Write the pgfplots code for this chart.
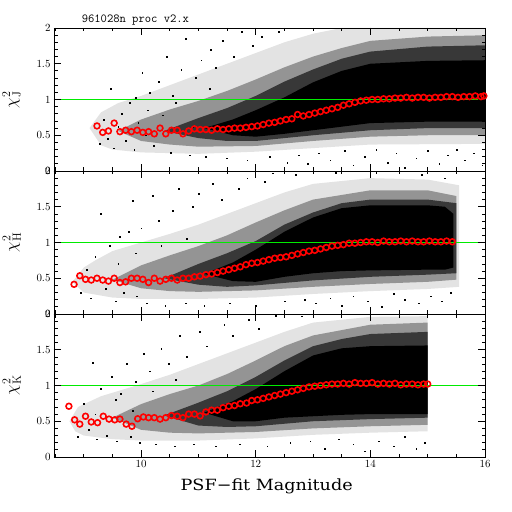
\documentclass[border=0pt]{standalone}
\usepackage{fontspec}
\newfontfamily\dejaserif{DejaVu Serif}[FakeStretch=1.14]
\usepackage{pgfplots}
\pgfplotsset{compat=1.18}
\definecolor{medred}{RGB}{255,0,0}
\definecolor{refgreen}{RGB}{0,235,0}
\pgfplotsset{
 panel/.style={
  scale only axis, width=431bp, height=143bp,
  xmin=8.48, xmax=16, ymin=0, ymax=2,
  xtick={10,12,14,16}, minor xtick={8.5,9,...,16},
  ytick={0,0.5,1,1.5,2}, minor ytick={0,0.1,...,2},
  tick align=inside, major tick length=7bp, minor tick length=3.5bp,
  axis line style={line width=0.9pt},
  every tick/.append style={line width=0.8pt, black},
  axis on top,
  ylabel style={font=\fontsize{17}{20}\selectfont, at={(axis description cs:-0.098,0.5)}, anchor=center},
  yticklabel style={font=\fontsize{10.5}{12}\selectfont},
  xticklabel style={font=\fontsize{10.5}{12}\selectfont},
 },
 lone/.style={fill=black!11, draw=none},
 ltwo/.style={fill=black!42, draw=none},
 lthree/.style={fill=black!78, draw=none},
 lfour/.style={fill=black, draw=none},
 outl/.style={only marks, mark=square*, mark size=0.4pt, black},
 med/.style={only marks, mark=o, medred, mark size=2.9pt, mark options={line width=1.6pt}},
 one/.style={refgreen, line width=0.8pt},
}
\begin{document}
\begin{tikzpicture}
\useasboundingbox (0,0) rectangle (512bp,512bp);
% ---------------- J panel ----------------
\begin{axis}[panel, at={(54bp,341bp)}, anchor=south west, xticklabels={}, ylabel={$\chi^2_{\rm J}$},
  title={961028n proc v2.x},
  title style={at={(rel axis cs:0.064,1.0)}, anchor=base west, inner sep=0pt, font=\fontsize{12.3}{14}\ttfamily}]
\addplot[lone] coordinates {(9.1,0.6)(9.3,0.82)(9.6,0.95)(10,1.05)(10.5,1.2)(11,1.35)(11.5,1.5)(12,1.65)(12.5,1.8)(13,1.92)(13.5,2.0)(16.1,2.0)(16.1,0.38)(14,0.37)(13,0.32)(12,0.27)(11,0.24)(10,0.26)(9.5,0.3)(9.3,0.36)} -- cycle;
\addplot[ltwo] coordinates {(9.6,0.56)(10,0.72)(10.5,0.86)(11,0.98)(11.5,1.12)(12,1.28)(12.5,1.45)(13,1.6)(13.5,1.72)(14,1.82)(15,1.88)(16.1,1.9)(16.1,0.5)(15,0.5)(14,0.48)(13,0.42)(12,0.35)(11,0.34)(10.5,0.37)(10,0.42)} -- cycle;
\addplot[lthree] coordinates {(10.4,0.56)(11,0.74)(11.5,0.88)(12,1.05)(12.5,1.25)(13,1.42)(13.5,1.57)(14,1.67)(15,1.74)(16.1,1.76)(16.1,0.6)(15,0.6)(14,0.57)(13,0.5)(12,0.42)(11.5,0.42)(11,0.46)} -- cycle;
\addplot[lfour] coordinates {(11.1,0.6)(11.6,0.72)(12,0.85)(12.5,1.03)(13,1.24)(13.5,1.4)(14,1.5)(15,1.54)(16.1,1.55)(16.1,0.69)(15,0.69)(14,0.67)(13.5,0.62)(13,0.57)(12.5,0.52)(12,0.48)(11.6,0.5)} -- cycle;
\addplot[outl] coordinates {(9.28,0.38)(9.35,0.72)(9.42,0.45)(9.47,1.15)(9.52,0.32)(9.6,0.62)(9.66,0.8)(9.73,0.42)(9.8,0.95)(9.88,0.3)(9.95,0.68)(10.02,1.38)(10.08,0.5)(10.15,1.1)(10.22,0.35)(10.3,1.25)(10.38,0.78)(10.45,1.6)(10.52,0.26)(10.6,0.95)(10.7,1.42)(10.78,1.85)(10.85,0.22)(10.95,1.3)(11.05,1.55)(11.12,0.2)(11.22,1.7)(11.3,1.45)(11.42,1.82)(11.5,0.18)(11.62,1.6)(11.75,1.95)(11.85,0.15)(11.95,1.75)(12.1,1.88)(12.25,0.2)(12.4,1.95)(12.55,0.12)(12.75,0.22)(12.9,0.1)(13.1,0.25)(13.3,0.15)(13.55,0.28)(13.7,0.08)(13.9,0.2)(14.1,0.3)(14.3,0.12)(14.45,0.25)(14.6,0.05)(14.8,0.18)(15.0,0.28)(15.2,0.1)(15.35,0.22)(15.5,0.3)(15.65,0.15)(15.8,0.25)(15.95,0.08)(9.9,1.02)(10.12,0.85)(10.55,1.05)(10.9,0.62)(11.2,1.15)};
\addplot[one] coordinates {(8.48,1)(16,1)};
\addplot[med] coordinates {(9.23,0.63)(9.33,0.54)(9.43,0.56)(9.53,0.67)(9.63,0.55)(9.73,0.57)(9.83,0.55)(9.93,0.57)(10.03,0.54)(10.13,0.55)(10.23,0.52)(10.33,0.60)(10.43,0.52)(10.53,0.57)(10.63,0.57)(10.73,0.52)(10.83,0.56)(10.93,0.59)(11.03,0.58)(11.13,0.58)(11.23,0.57)(11.33,0.59)(11.43,0.58)(11.53,0.59)(11.63,0.60)(11.73,0.60)(11.83,0.61)(11.93,0.62)(12.03,0.63)(12.13,0.65)(12.23,0.67)(12.33,0.68)(12.43,0.70)(12.53,0.72)(12.63,0.73)(12.73,0.79)(12.83,0.77)(12.93,0.79)(13.03,0.81)(13.13,0.83)(13.23,0.85)(13.33,0.87)(13.43,0.89)(13.53,0.92)(13.63,0.94)(13.73,0.96)(13.83,0.98)(13.93,0.99)(14.03,1.00)(14.13,1.00)(14.23,1.01)(14.33,1.01)(14.43,1.02)(14.53,1.02)(14.63,1.03)(14.73,1.02)(14.83,1.03)(14.93,1.03)(15.03,1.02)(15.13,1.03)(15.23,1.03)(15.33,1.04)(15.43,1.04)(15.53,1.03)(15.63,1.04)(15.73,1.04)(15.83,1.05)(15.93,1.04)(15.98,1.05)};
\end{axis}
% ---------------- H panel ----------------
\begin{axis}[panel, at={(54bp,198bp)}, anchor=south west, xticklabels={}, ylabel={$\chi^2_{\rm H}$}]
\addplot[lone] coordinates {(8.8,0.45)(9.0,0.65)(9.2,0.75)(9.5,0.88)(10,1.0)(10.5,1.12)(11,1.25)(11.5,1.4)(12,1.55)(12.5,1.7)(13,1.82)(14,1.9)(15,1.88)(15.55,1.8)(15.55,0.38)(15,0.35)(14,0.32)(13,0.28)(12,0.23)(11,0.21)(10,0.21)(9.5,0.23)(9,0.3)} -- cycle;
\addplot[ltwo] coordinates {(9.5,0.48)(10,0.68)(10.5,0.82)(11,0.95)(11.5,1.1)(12,1.28)(12.5,1.45)(13,1.6)(14,1.73)(15,1.73)(15.5,1.65)(15.5,0.48)(15,0.45)(14,0.42)(13,0.38)(12,0.33)(11,0.31)(10.5,0.32)(10,0.36)} -- cycle;
\addplot[lthree] coordinates {(10.4,0.5)(11,0.7)(11.5,0.85)(12,1.02)(12.5,1.25)(13,1.42)(13.5,1.55)(14,1.6)(15,1.6)(15.5,1.55)(15.5,0.57)(15,0.55)(14,0.52)(13,0.47)(12,0.4)(11.5,0.38)(11,0.41)} -- cycle;
\addplot[lfour] coordinates {(11.1,0.56)(11.6,0.72)(12,0.9)(12.5,1.15)(13,1.35)(13.5,1.48)(14,1.52)(15,1.52)(15.3,1.5)(15.45,1.4)(15.45,0.65)(15.3,0.62)(15,0.62)(14,0.61)(13.5,0.6)(13,0.57)(12.5,0.52)(12,0.45)(11.6,0.46)} -- cycle;
\addplot[outl] coordinates {(8.95,0.3)(9.05,0.62)(9.12,0.22)(9.2,0.8)(9.3,1.4)(9.38,0.35)(9.45,0.95)(9.55,0.18)(9.62,1.08)(9.7,0.3)(9.78,1.15)(9.85,1.58)(9.92,0.25)(10.0,1.2)(10.1,0.15)(10.2,1.65)(10.3,1.3)(10.42,0.12)(10.55,1.45)(10.65,1.75)(10.78,0.15)(10.9,1.5)(11.0,1.68)(11.1,0.12)(11.25,1.82)(11.4,1.6)(11.55,0.15)(11.7,1.75)(11.85,1.9)(12.0,0.12)(12.15,1.85)(12.3,1.97)(12.5,0.18)(12.7,1.95)(12.85,0.2)(13.05,0.15)(13.3,0.22)(13.5,0.12)(13.7,0.25)(13.95,0.18)(14.2,0.1)(14.4,0.28)(14.6,0.2)(14.85,0.15)(15.05,0.25)(15.25,0.18)(15.4,0.3)(14.1,1.98)(14.9,1.95)(15.3,1.9)(13.4,1.98)(9.6,0.7)(9.9,0.85)(10.35,0.95)(10.8,1.05)};
\addplot[one] coordinates {(8.48,1)(16,1)};
\addplot[med] coordinates {(8.83,0.415)(8.93,0.535)(9.03,0.485)(9.13,0.475)(9.23,0.50)(9.33,0.475)(9.43,0.46)(9.53,0.50)(9.63,0.44)(9.73,0.45)(9.83,0.50)(9.93,0.50)(10.03,0.485)(10.13,0.44)(10.23,0.50)(10.33,0.46)(10.43,0.485)(10.53,0.50)(10.63,0.475)(10.73,0.50)(10.83,0.50)(10.93,0.52)(11.03,0.53)(11.13,0.55)(11.23,0.56)(11.33,0.58)(11.43,0.60)(11.53,0.62)(11.63,0.64)(11.73,0.66)(11.83,0.69)(11.93,0.71)(12.03,0.72)(12.13,0.74)(12.23,0.76)(12.33,0.78)(12.43,0.79)(12.53,0.80)(12.63,0.82)(12.73,0.84)(12.83,0.86)(12.93,0.88)(13.03,0.89)(13.13,0.91)(13.23,0.93)(13.33,0.95)(13.43,0.96)(13.53,0.97)(13.63,0.99)(13.73,0.99)(13.83,1.00)(13.93,1.01)(14.03,1.01)(14.13,1.00)(14.23,1.02)(14.33,1.01)(14.43,1.01)(14.53,1.02)(14.63,1.01)(14.73,1.02)(14.83,1.01)(14.93,1.01)(15.03,1.02)(15.13,1.01)(15.23,1.01)(15.33,1.02)(15.43,1.01)};
\end{axis}
% ---------------- K panel ----------------
\begin{axis}[panel, at={(54bp,55bp)}, anchor=south west, ylabel={$\chi^2_{\rm K}$},
  xlabel={\dejaserif PSF−fit Magnitude},
  xlabel style={font=\fontsize{15.5}{18}\selectfont, at={(axis description cs:0.4935,-0.231)}, anchor=base}]
\addplot[lone] coordinates {(8.75,0.5)(8.9,0.7)(9.3,0.85)(10,1.02)(10.5,1.15)(11,1.3)(11.5,1.45)(12,1.6)(12.5,1.75)(13,1.88)(14,1.96)(15,1.97)(15,0.36)(14,0.34)(13,0.31)(12,0.26)(11,0.23)(10,0.23)(9.5,0.25)(9,0.3)(8.85,0.36)} -- cycle;
\addplot[ltwo] coordinates {(9.5,0.55)(10,0.74)(10.5,0.88)(11,1.0)(11.5,1.16)(12,1.35)(12.5,1.55)(13,1.7)(14,1.85)(15,1.88)(15,0.45)(14,0.43)(13,0.4)(12,0.35)(11,0.33)(10.5,0.34)(10,0.38)} -- cycle;
\addplot[lthree] coordinates {(10.4,0.58)(11,0.76)(11.5,0.92)(12,1.12)(12.5,1.35)(13,1.55)(13.5,1.65)(14,1.72)(15,1.75)(15,0.55)(14,0.53)(13,0.5)(12,0.43)(11.5,0.42)(11,0.44)} -- cycle;
\addplot[lfour] coordinates {(11.1,0.62)(11.6,0.78)(12,0.95)(12.5,1.2)(13,1.42)(13.5,1.52)(14,1.55)(15,1.56)(15,0.6)(14,0.6)(13.5,0.59)(13,0.57)(12.5,0.55)(12,0.5)(11.6,0.5)} -- cycle;
\addplot[outl] coordinates {(8.9,0.28)(9.0,0.75)(9.08,0.38)(9.15,1.32)(9.22,0.25)(9.3,0.95)(9.4,0.3)(9.48,1.12)(9.58,0.22)(9.65,0.88)(9.75,1.3)(9.82,0.28)(9.9,1.05)(9.98,0.2)(10.05,1.45)(10.15,1.2)(10.25,0.18)(10.35,1.52)(10.48,1.3)(10.58,0.15)(10.68,1.7)(10.8,1.4)(10.92,0.18)(11.02,1.75)(11.15,1.55)(11.3,0.15)(11.45,1.85)(11.6,1.7)(11.72,0.18)(11.88,1.92)(12.05,1.8)(12.2,0.15)(12.35,1.98)(12.6,0.2)(12.8,1.97)(12.95,0.22)(13.2,0.12)(13.45,0.25)(13.7,0.18)(13.9,0.08)(14.15,0.22)(14.4,0.15)(14.6,0.28)(14.8,0.12)(14.95,0.2)(9.2,0.6)(9.55,0.8)(9.85,0.65)(10.2,0.92)(10.6,1.08)};
\addplot[one] coordinates {(8.48,1)(16,1)};
\addplot[med] coordinates {(8.74,0.71)(8.84,0.52)(8.93,0.46)(9.03,0.57)(9.13,0.49)(9.24,0.48)(9.34,0.57)(9.44,0.53)(9.54,0.52)(9.63,0.53)(9.74,0.46)(9.84,0.43)(9.94,0.535)(10.04,0.56)(10.13,0.55)(10.23,0.55)(10.33,0.53)(10.43,0.55)(10.53,0.58)(10.63,0.57)(10.73,0.55)(10.83,0.60)(10.93,0.60)(11.03,0.575)(11.13,0.63)(11.23,0.655)(11.33,0.655)(11.43,0.69)(11.53,0.71)(11.63,0.72)(11.73,0.745)(11.84,0.755)(11.93,0.79)(12.03,0.80)(12.13,0.82)(12.23,0.84)(12.33,0.86)(12.43,0.88)(12.53,0.90)(12.63,0.92)(12.73,0.94)(12.83,0.96)(12.93,0.98)(13.03,0.99)(13.13,1.00)(13.23,1.01)(13.33,1.02)(13.43,1.02)(13.53,1.03)(13.63,1.02)(13.73,1.04)(13.83,1.03)(13.93,1.03)(14.03,1.04)(14.13,1.02)(14.23,1.03)(14.33,1.02)(14.43,1.03)(14.53,1.01)(14.63,1.02)(14.73,1.02)(14.83,1.01)(14.93,1.02)(15.0,1.02)};
\end{axis}
\end{tikzpicture}
\end{document}
